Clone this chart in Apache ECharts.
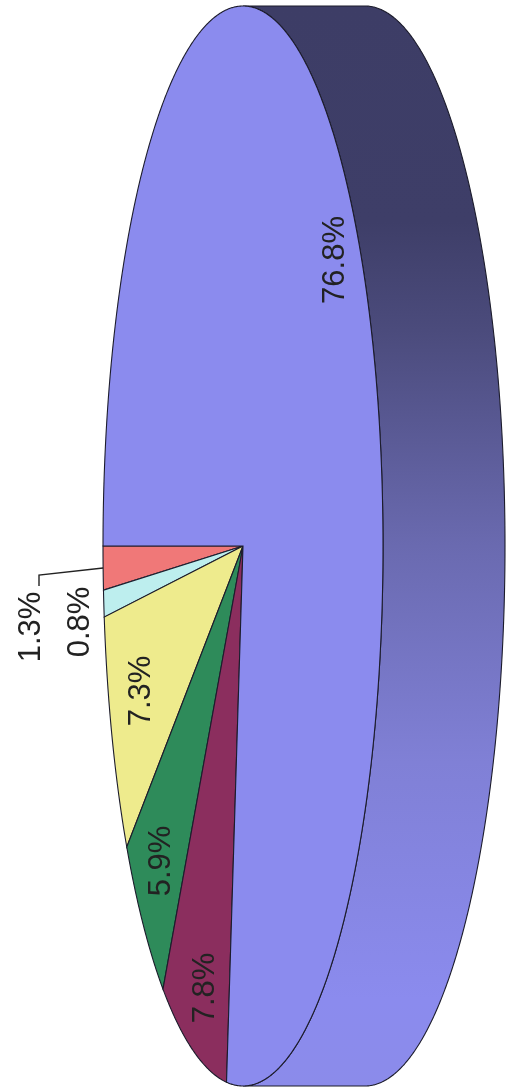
<!DOCTYPE html>
<html>
<head>
<meta charset="utf-8">
<style>html,body{margin:0;padding:0;background:#fff}#c{width:506px;height:1092px}</style>
<script src="https://cdn.jsdelivr.net/npm/echarts@6/dist/echarts.min.js"></script>
</head>
<body>
<div id="c"></div>
<script>
const sliceValues = [1.3, 0.8, 7.3, 5.9, 7.8, 76.8];
const sliceLabels = ['1.3%', '0.8%', '7.3%', '5.9%', '7.8%', '76.8%'];
const sliceColors = ['#f07878', '#bdeeee', '#eeeb8d', '#2e8b5a', '#8b2e5e', '#8b8bee'];
const labelSpots = [[31, 627], [80, 622], [141, 691], [161, 861], [205, 988], [335, 260]];

const cx = 243, cy = 546, rx = 140, ry = 540, depth = 122;
const outline = '#1c1c2c';
const total = sliceValues.reduce((a, b) => a + b, 0);
const starts = [];
sliceValues.reduce((acc, v, i) => { starts[i] = acc; return acc + v; }, 0);
const ang = v => v / total * Math.PI * 2;
const pt = t => [cx - rx * Math.cos(t), cy + ry * Math.sin(t)];

function arc(t0, t1, shift) {
  const n = Math.max(2, Math.ceil(Math.abs(t1 - t0) / 0.005));
  const out = [];
  for (let i = 0; i <= n; i++) {
    const p = pt(t0 + (t1 - t0) * i / n);
    out.push([p[0] + shift, p[1]]);
  }
  return out;
}

const wallGradient = {
  type: 'linear', x: 0, y: 0, x2: 0, y2: 1,
  colorStops: [
    { offset: 0, color: '#3d3d66' },
    { offset: 0.2, color: '#3e3e68' },
    { offset: 0.3, color: '#4b4b7c' },
    { offset: 0.5, color: '#6a6ab0' },
    { offset: 0.7, color: '#8080d6' },
    { offset: 0.92, color: '#8b8bee' },
    { offset: 1, color: '#8b8bea' }
  ]
};

const chart = echarts.init(document.getElementById('c'), null, { renderer: 'canvas' });
chart.setOption({
  animation: false,
  backgroundColor: '#ffffff',
  series: [
    {
      type: 'custom', coordinateSystem: 'none', silent: true,
      data: [total],
      renderItem: () => {
        // the visible wall runs along the right half of the ellipse
        const near = arc(Math.PI * 0.5, Math.PI * 1.5, 0);
        const far = arc(Math.PI * 1.5, Math.PI * 0.5, depth);
        return {
          type: 'polygon',
          shape: { points: near.concat(far) },
          style: { fill: wallGradient, stroke: outline, lineWidth: 1.1 }
        };
      }
    },
    {
      type: 'custom', coordinateSystem: 'none', silent: true,
      data: sliceValues,
      renderItem: (params, api) => {
        const i = params.dataIndex;
        const t0 = ang(starts[i]);
        const t1 = t0 + ang(api.value(0));
        return {
          type: 'polygon',
          shape: { points: [[cx, cy]].concat(arc(t0, t1, 0)) },
          style: { fill: sliceColors[i], stroke: outline, lineWidth: 1.1 }
        };
      }
    },
    {
      type: 'custom', coordinateSystem: 'none', silent: true,
      data: [sliceValues[0]],
      renderItem: (params, api) => {
        const p = pt(ang(api.value(0)) / 2);
        return {
          type: 'polyline',
          shape: { points: [p, [39, p[1] + 7], [39, p[1] + 18]] },
          style: { fill: 'none', stroke: '#222222', lineWidth: 1.4 }
        };
      }
    },
    {
      type: 'custom', coordinateSystem: 'none', silent: true,
      data: sliceLabels,
      renderItem: (params) => {
        const i = params.dataIndex;
        return {
          type: 'text',
          x: labelSpots[i][0], y: labelSpots[i][1],
          rotation: Math.PI / 2,
          style: {
            text: sliceLabels[i], fill: '#222222',
            font: '31px "Liberation Sans", Arial, sans-serif',
            align: 'center', verticalAlign: 'middle'
          }
        };
      }
    }
  ]
});
</script>
</body>
</html>
